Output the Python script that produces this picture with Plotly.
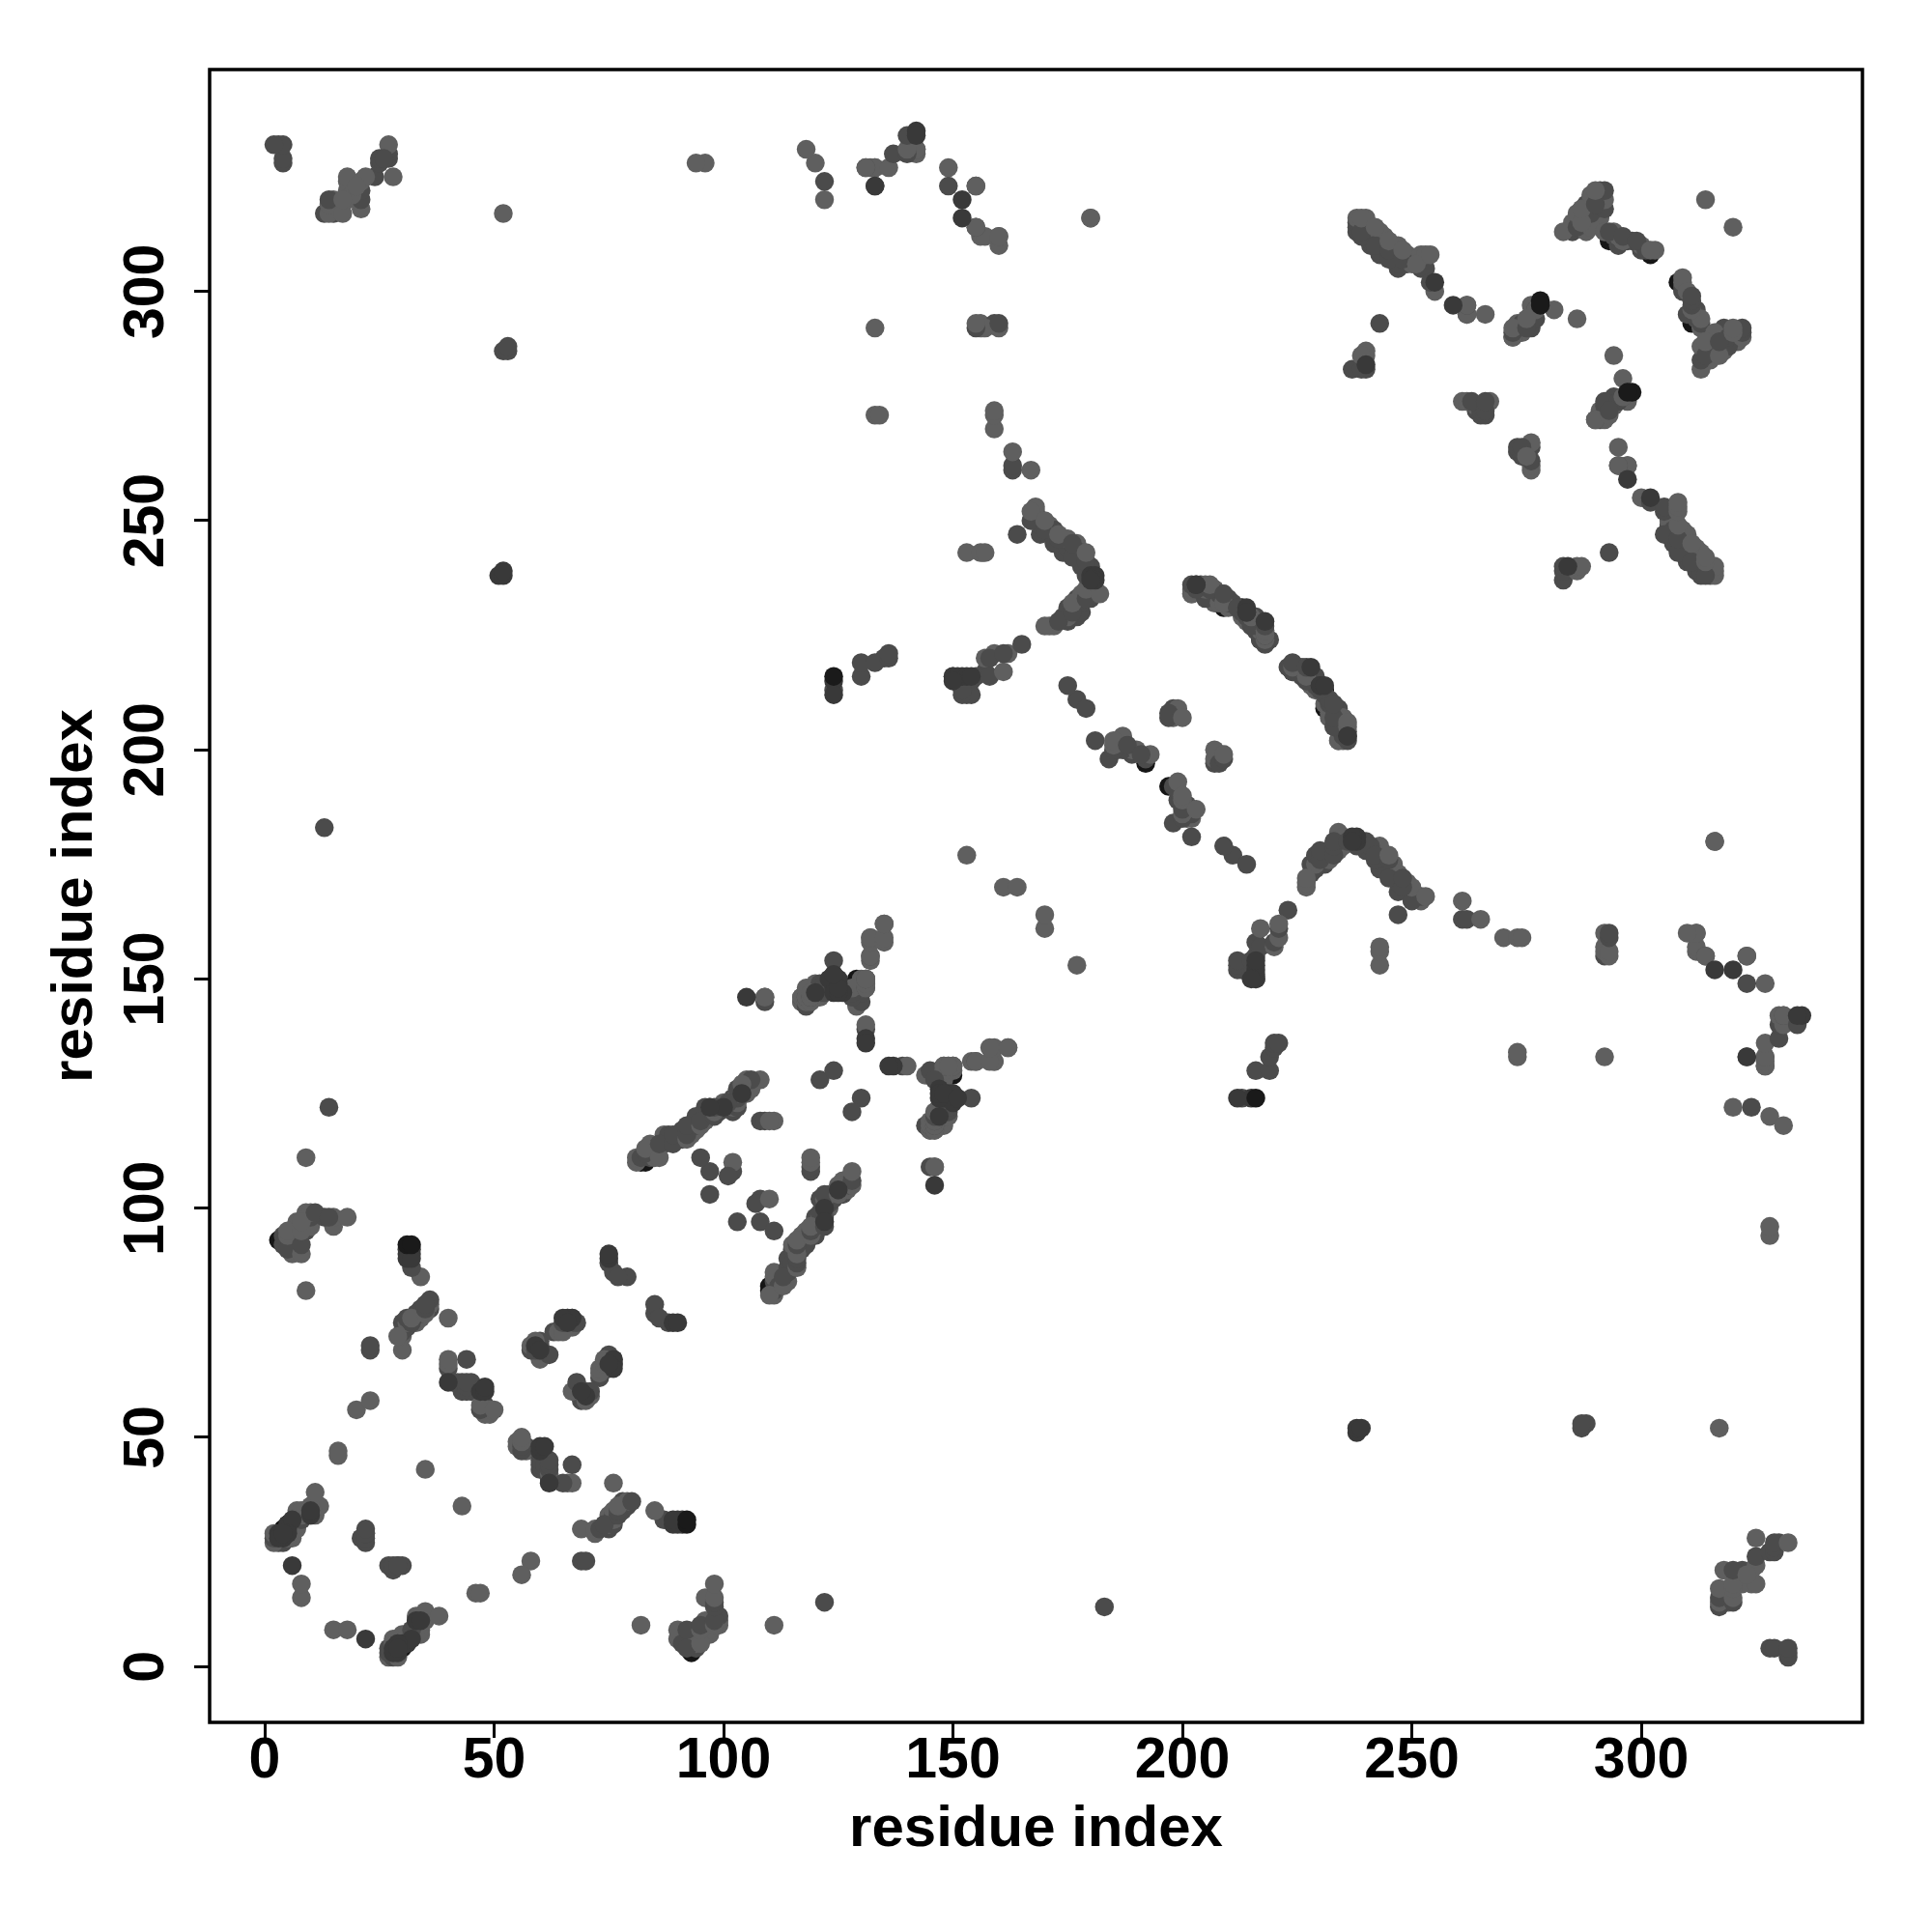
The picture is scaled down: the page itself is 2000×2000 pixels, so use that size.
import plotly.graph_objects as go

# The map shows every contact twice, at (i, j) and at (j, i).
black_under = [(3,28),(4,28),(4,30),(3,93),(3,29),(5,31),(82,110),(83,110),(129,149),(129,150),
               (168,250),(174,244),(192,197),(209,231),(218,224),(217,224),(241,312),(243,309),(289,316),
               (302,308),(276,293),(311,293),(124,148),(87,115),(30,5),(213,231),(233,209)]

mid = [(2,28),(3,27),(4,27),(5,29),(6,30),(6,31),(8,32),(9,33),(4,92),(4,94),(5,91),(6,93),(7,93),(7,96),(8,92),
       (9,95),(10,98),(11,99),(13,98),(14,98),(22,28),(22,29),(21,28),(22,30),(22,27),(22,29),
       (23,69),(23,70),(32,87),(30,73),(31,74),(32,75),(33,76),(34,77),(35,78),(36,78),(36,80),(40,65),
       (41,62),(44,60),(44,61),(44,62),(43,62),(45,60),(44,67),(47,56),(48,56),(48,57),(45,62),(43,60),
       (58,69),(59,69),(59,70),(60,70),(60,69),(60,71),(62,68),(63,73),(65,75),(66,75),(66,76),(67,76),(67,75),(68,75),
       (30,75),(31,76),(33,77),(34,78),(35,79),(76,86),(77,85),(79,85),(75,88),
       (82,111),(83,112),(84,111),(85,113),(86,114),(87,114),(88,115),(88,116),(89,116),(91,115),(92,116),(93,117),
       (94,118),(95,119),(96,120),(97,121),(98,122),(100,122),(102,121),(103,122),(103,124),(104,125),(105,127),
       (105,126),(106,128),(101,123),(99,121),(89,114),(91,117),(92,118),(94,120),(96,122),(98,120),(102,124),(103,126),
       (95,111),(97,103),(97,108),(101,107),(102,108),(108,119),(109,119),(14,122),(13,183),
       (118,144),(118,146),(120,147),(121,148),(122,147),(122,149),(123,148),(125,148),(126,148),(124,149),
       (128,147),(128,146),(130,145),(130,147),(131,148),(131,150),(124,154),(132,155),
       (117,145),(118,145),(119,146),(120,146),(120,147),(121,147),(122,148),(121,149),(122,149),(117,146),
       (109,145),(109,146),(121,128),(124,130),(131,139),
       (150,216),(151,215),(152,212),(152,213),(153,212),(154,212),(154,215),(161,221),(157,217),
       (167,250),(168,252),(169,249),(170,248),(171,247),(172,248),(173,246),(174,246),(175,244),(176,245),
       (177,242),(178,243),(179,241),(180,240),(178,232),(177,233),(176,230),(175,231),(174,229),(173,228),(179,233),(180,236),
       (169,247),(172,245),(174,243),(176,242),(178,240),(179,238),(177,229),(175,228),(178,230),(180,233),
       (202,236),(203,235),(204,236),(205,233),(206,235),(207,233),(208,234),(209,234),(210,233),(211,232),(212,231),
       (213,230),(215,227),(216,226),(217,225),(216,229),(218,225),(223,218),(224,217),
       (165,223),(164,247),(175,214),(177,211),(179,209),(181,202),(184,198),(185,200),(186,202),(187,200),(188,201),
       (198,209),(197,208),(197,207),(189,199),(191,199),(192,198),
       (238,314),(238,315),(239,313),(240,315),(240,312),(241,311),(242,310),(243,312),(244,310),(245,309),(246,308),(247,306),
       (248,307),(249,306),(252,305),(253,305),(254,302),(262,297),(262,295),(238,313),(239,312),(241,310),(243,308),(245,307),(247,305),
       (272,290),(272,291),(273,291),(274,293),(275,292),(276,292),(276,295),(277,294),(277,296),
       (239,283),(240,283),(237,283),(243,293),(263,276),(264,274),(265,274),(266,274),(265,273),(266,273),(266,276),
       (285,313),(286,314),(288,316),(288,319),(289,317),(290,319),(291,322),(292,322),(292,318),
       (293,313),(294,312),(295,310),(296,312),(297,311),(298,311),(299,311),(300,309),(301,309),
       (13,317),(14,320),(15,317),(21,320),(21,322),(24,325),(25,328),(26,329),(27,329),(27,330),(25,329),
       (2,332),(3,332),(4,332),(4,329),(4,328),(142,331),(137,330),(140,330),(140,334),(133,323),(149,323),(155,323),
       (155,314),(52,287),(53,288),(53,287),(122,324),(131,327),(160,293),(159,293),(155,292),(163,261),(163,262),
       (124,213),(130,216),(130,219),(133,219),(135,220),(136,220),(136,221),(155,216),(158,220),(158,216),
       (227,218),(225,218),(224,219),(228,216),(229,214),(231,212),(232,210)]

light = [(2,27),(2,29),(5,28),(7,30),(7,31),(7,34),(8,33),(8,34),(9,34),(10,33),(10,35),(11,33),(11,38),(12,35),
         (5,94),(5,95),(6,90),(7,94),(7,97),(8,90),(8,95),(8,97),(9,98),(9,99),(10,96),(10,99),(15,96),(15,98),(18,98),
         (9,82),(9,111),(6,28),(8,15),(8,18),(16,46),(16,47),(20,56),(23,58),(34,85),(30,69),(29,72),(30,72),
         (31,75),(32,76),(33,75),(34,76),(35,77),(36,79),(35,43),(40,67),(40,76),(42,62),(49,55),(50,56),(49,56),(48,55),(47,57),
         (40,66),(58,70),(60,67),(59,71),(65,73),(64,73),(66,74),(67,74),
         (81,110),(81,111),(83,113),(84,114),(85,111),(86,111),(87,116),(90,116),(92,115),(93,116),(94,117),(94,119),
         (95,118),(96,119),(96,121),(97,120),(97,122),(98,121),(100,123),(102,122),(103,123),(103,125),(104,127),(105,125),(105,128),(106,126),
         (108,128),(110,119),(111,119),(102,110),
         (117,146),(118,145),(119,145),(119,146),(120,148),(121,146),(129,144),(128,148),(127,147),(130,150),(131,149),(132,154),(132,159),(135,159),(135,162),
         (131,140),(117,145),(119,147),(118,148),(132,155),(132,158),(135,158),(135,162),(132,159),(131,150),
         (131,149),(118,146),(120,149),(131,150),(131,148),(109,146),(127,147),(129,148),(130,148),
         (153,177),(161,170),(164,170),(153,243),(156,243),(157,243),(162,221),(161,217),(157,220),(159,221),(159,270),(159,273),(159,274),
         (163,265),(167,261),(94,328),(96,328),(118,331),(120,328),(122,320),(132,327),(133,327),(136,327),(149,327),
         (156,312),(157,312),(160,312),(160,310),(180,316),(133,292),(133,273),(134,273),(156,292),(157,292),(155,293),(156,293),(160,292),
         (170,227),(171,227),(172,227),(175,229),(176,232),(177,231),(178,234),(179,235),(182,234),(181,235),(180,234),
         (167,252),(168,253),(170,250),(171,249),(173,247),(175,246),(177,245),(179,243),
         (202,234),(205,236),(206,236),(207,235),(208,232),(209,232),(210,231),(213,229),(214,228),(215,229),(216,227),(218,226),(218,225),
         (217,226),(185,201),(185,202),(187,203),(186,200),(189,200),(190,200),(193,199),(198,207),(199,209),(200,207),
         (238,316),(239,316),(240,316),(241,314),(242,314),(243,313),(244,312),(245,311),(246,310),(247,310),(248,309),(249,308),(250,306),(251,306),
         (252,307),(252,308),(253,308),(254,308),(255,300),(262,297),(266,295),(262,295),
         (272,292),(273,293),(274,291),(275,294),(276,297),(277,296),(281,296),(286,294),(272,290),
         (239,286),(240,287),(240,286),(261,276),(262,276),(267,276),(264,275),
         (283,313),(285,315),(286,317),(287,318),(287,315),(288,313),(289,314),(289,321),(290,322),(291,320),(291,318),(292,320),(291,316),
         (292,313),(294,313),(295,312),(296,311),(300,310),(302,309),(303,309),
         (14,319),(15,320),(17,317),(17,320),(18,320),(18,322),(18,324),(18,325),(19,321),(20,323),(21,318),(21,324),(22,325),(28,325),(27,332),
         (14,317),(52,317),(155,323),(314,320),(133,327),(131,327),(180,316),(142,330),(142,331),
         (140,331),(160,312),(155,314),(202,235),(224,218),(226,218),(232,207),(235,205),(234,202),(235,207)]

dark_top = [(31,90),(32,90),(31,91),(32,91),(75,89),(75,90),(47,60),(48,60),(40,62),(6,22),(105,146),(131,137),(131,136),
            (51,238),(52,238),(52,239),(124,215),(124,212),(150,216),(151,216),(152,216),(153,216),(154,216),(150,215),
            (152,320),(152,316),(142,335),(142,334),(255,302),(259,297),(214,230),(180,238),(181,238),(181,237),(218,228),(180,237),(240,284),
            (4,28),(3,29),(5,30),(5,31),(6,32),(10,33),(10,34),(120,147),(124,150),(124,148),(125,149),(123,150),(125,150),
            (214,231),(5,29),(3,28),(4,29),(124,147),(126,147),(125,147),(125,148),(124,151),
            (104,125),(100,122),(97,122),(31,89),(32,89),(48,61),(59,70),(66,76),(67,76),(60,69),(65,76),(66,75),(133,323),(203,236),(230,214),(236,203)]

black_top = [(31,92),(32,92),(278,298),(278,297),(124,216)]

grey_black = "#161616"
grey_mid = "#4b4b4b"
grey_light = "#5f5f5f"
grey_dark = "#393939"
grey_top = "#1a1a1a"
tick_values = [0, 50, 100, 150, 200, 250, 300]
axis_title = "residue index"


def both_ways(pairs, colour):
    return [(a, b, colour) for a, b in pairs] + [(b, a, colour) for a, b in pairs]


# Mid and light greys are interleaved in residue order, so that they overlap as they do on the map.
middle = sorted(both_ways(mid, grey_mid) + both_ways(light, grey_light), key=lambda p: (p[0] * 7 % 3, p[0], p[1]))
ordered = both_ways(black_under, grey_black) + middle + both_ways(dark_top, grey_dark) + both_ways(black_top, grey_top)

fig = go.Figure(go.Scatter(
    x=[p[0] for p in ordered], y=[p[1] for p in ordered], mode="markers",
    marker=dict(size=19.5, color=[p[2] for p in ordered], line=dict(width=0)),
    showlegend=False, hoverinfo="skip"))

axis_style = dict(
    tickvals=tick_values, ticks="outside", ticklen=15, tickwidth=3, tickcolor="black",
    showgrid=False, zeroline=False, showline=False, mirror=False,
    tickfont=dict(family="Liberation Sans", size=59, color="black", weight="bold"),
)
fig.update_xaxes(range=[-12, 348.2], ticklabelstandoff=-30, title=dict(text=axis_title, standoff=17,
                 font=dict(family="Liberation Sans", size=60, color="black", weight="bold")), **axis_style)
fig.update_yaxes(range=[-12.2, 348.4], tickangle=-90, ticklabelstandoff=8, ticklabelshift=9,
                 title=dict(text=axis_title, standoff=1,
                 font=dict(family="Liberation Sans", size=60, color="black", weight="bold")), **axis_style)
fig.add_shape(type="rect", xref="paper", yref="paper", x0=0, y0=0, x1=1, y1=1,
              line=dict(color="black", width=3.5), fillcolor="rgba(0,0,0,0)", layer="above")
fig.update_layout(width=2000, height=2000, autosize=False, plot_bgcolor="white", paper_bgcolor="white",
                  margin=dict(l=209, r=80, t=64, b=225, pad=0, autoexpand=False))
fig.write_html("out.html")
